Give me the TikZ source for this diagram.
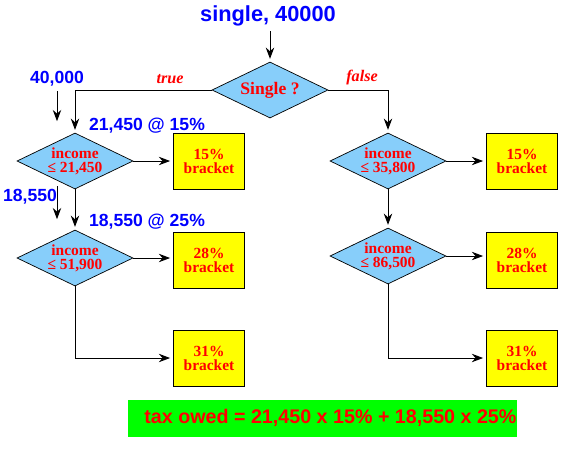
\documentclass[tikz,border=0pt]{standalone}
\usepackage{fontspec}
\setmainfont{Liberation Serif}
\newfontfamily\labelsans{Liberation Sans}
\usetikzlibrary{shapes.geometric, arrows.meta, positioning}
\definecolor{myred}{RGB}{255,0,0}
\definecolor{myblue}{RGB}{0,0,255}
\definecolor{dmdblue}{RGB}{135,206,250}
\definecolor{myyellow}{RGB}{255,255,0}
\definecolor{mygreen}{RGB}{0,255,0}
\tikzset{
  decision/.style={diamond, draw=black, fill=dmdblue, shape aspect=2,
    minimum width=2.9cm, minimum height=1.4cm, inner sep=0pt, align=center,
    font=\fontsize{11}{10}\selectfont\bfseries, text=myred, line width=0.5pt},
  bracketbox/.style={rectangle, draw=black, fill=myyellow, align=center,
    minimum width=1.78cm, minimum height=1.4cm, inner sep=0pt,
    font=\fontsize{11}{10}\selectfont\bfseries, text=myred, line width=0.7pt},
  arrow/.style={-{Stealth[length=8pt,width=6pt]}, line width=0.7pt, shorten >=2pt},
  bluelabel/.style={font=\labelsans\fontsize{12.5}{14}\selectfont\bfseries, text=myblue},
  branch/.style={font=\fontsize{11.5}{13}\selectfont\bfseries\itshape, text=myred}
}
\begin{document}
\begin{tikzpicture}[x=0.025cm, y=-0.025cm]
  \useasboundingbox (0,0) rectangle (585,450);
  % Input and first test
  \node[bluelabel, font=\labelsans\fontsize{15.5}{17}\selectfont\bfseries] (input) at (268,16) {single, 40000};
  \node[decision, font=\fontsize{12.5}{14}\selectfont\bfseries] (single) at (270,90) {Single ?};
  \node[branch] (true) at (170,79) {true};
  \node[branch] (false) at (362,78) {false};
  % Left column (single)
  \node[decision] (lone) at (75,161) {income\\≤ 21,450};
  \node[decision] (ltwo) at (75,258) {income\\≤ 51,900};
  \node[bracketbox] (lbrk15) at (209,161) {15\%\\bracket};
  \node[bracketbox] (lbrk28) at (209,260) {28\%\\bracket};
  \node[bracketbox] (lbrk31) at (209,358) {31\%\\bracket};
  % Right column (not single)
  \node[decision] (rone) at (388,161) {income\\≤ 35,800};
  \node[decision] (rtwo) at (388,256) {income\\≤ 86,500};
  \node[bracketbox] (rbrk15) at (522,161) {15\%\\bracket};
  \node[bracketbox] (rbrk28) at (522,260) {28\%\\bracket};
  \node[bracketbox] (rbrk31) at (522,358) {31\%\\bracket};
  % Amounts
  \node[bluelabel] (amt) at (57,79) {40,000};
  \node[bluelabel] (part15) at (147,126) {21,450 @ 15\%};
  \node[bluelabel] (rest) at (30,197) {18,550};
  \node[bluelabel] (part25) at (147,222) {18,550 @ 25\%};
  \coordinate (amtend) at (57,124);
  \coordinate (reststart) at (57,186);
  \coordinate (restend) at (57,222);
  % Result
  \node[fill=mygreen, minimum width=9.7cm, minimum height=0.925cm, inner sep=0pt,
    font=\labelsans\fontsize{14}{16}\selectfont\bfseries, text=myred] (tax) at (322,418)
    {\hspace{12pt}tax owed = 21,450 x 15\% + 18,550 x 25\%};
  % Connectors
  \draw[arrow] (input.south -| single.north) -- (single.north);
  \draw[arrow] (single.west) -| (lone.north);
  \draw[arrow] (single.east) -| (rone.north);
  \draw[arrow] (lone.east) -- (lbrk15.west);
  \draw[arrow] (lone.south) -- (ltwo.north);
  \draw[arrow] (ltwo.east) -- (ltwo.east -| lbrk28.west);
  \draw[arrow] (ltwo.south) |- (lbrk31.west);
  \draw[arrow] (rone.east) -- (rbrk15.west);
  \draw[arrow] (rone.south) -- (rtwo.north);
  \draw[arrow] (rtwo.east) -- (rtwo.east -| rbrk28.west);
  \draw[arrow] (rtwo.south) |- (rbrk31.west);
  \draw[arrow] (amt.south) -- (amtend);
  \draw[arrow] (reststart) -- (restend);
\end{tikzpicture}
\end{document}
